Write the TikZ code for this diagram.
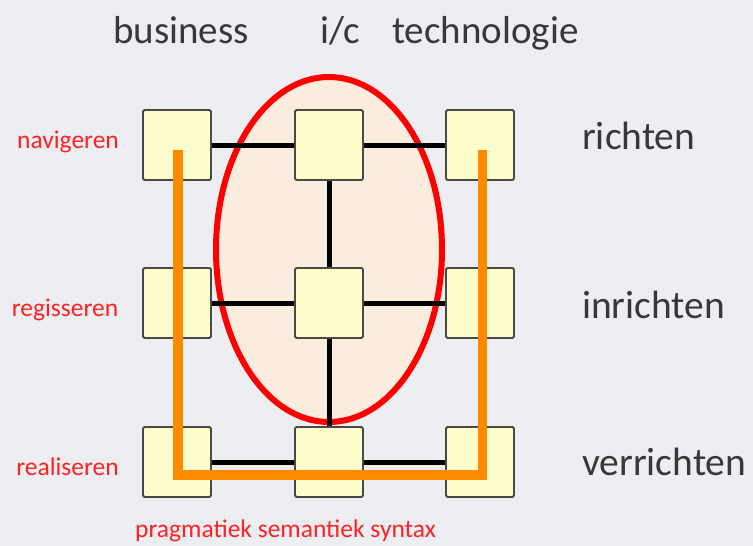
\documentclass[tikz,border=0pt]{standalone}
\usepackage{fontspec}
\usetikzlibrary{shapes.geometric}
\setmainfont{Carlito}
\begin{document}
\begin{tikzpicture}[x=1pt,y=-1pt,
  cell/.style={draw=boxline,fill=boxfill,line width=1.8pt,rounded corners=1.5pt,minimum width=68pt,minimum height=70pt,inner sep=0pt},
  link/.style={line width=5pt,black},
  toplabel/.style={anchor=base west,inner sep=0pt,text=txtgray,font=\fontsize{39}{39}\selectfont},
  rightlabel/.style={anchor=base west,inner sep=0pt,text=txtgray,font=\fontsize{39.5}{40}\selectfont},
  redlabel/.style={anchor=base,inner sep=0pt,text=lblred,font=\fontsize{25.5}{26}\selectfont},
  orangepath/.style={line width=9.5pt,draw=orng,line join=miter}]
\definecolor{bg}{HTML}{ECEEF1}
\definecolor{boxfill}{HTML}{FFFDCB}
\definecolor{boxline}{HTML}{4A4A44}
\definecolor{txtgray}{HTML}{383838}
\definecolor{lblred}{HTML}{FF2222}
\definecolor{orng}{HTML}{FF8A00}
\definecolor{peach}{HTML}{FBEDDD}
\definecolor{ellred}{HTML}{FF0000}
\useasboundingbox[fill=bg] (0,0) rectangle (753,546);
% ellipse
\node[ellipse,draw=ellred,fill=peach,line width=6pt,inner sep=0pt,minimum width=226pt,minimum height=345pt] (ell) at (329,249.5) {};
% boxes
\node[cell] (b11) at (177,145) {};
\node[cell] (b12) at (329,145) {};
\node[cell] (b13) at (480,145) {};
\node[cell] (b21) at (177,303) {};
\node[cell] (b22) at (329,303) {};
\node[cell] (b23) at (480,303) {};
\node[cell] (b31) at (177,462) {};
\node[cell] (b32) at (329,462) {};
\node[cell] (b33) at (480,462) {};
% links
\draw[link] (b11.east) -- (b12.west);
\draw[link] (b12.east) -- (b13.west);
\draw[link] (b21.east) -- (b22.west);
\draw[link] (b22.east) -- (b23.west);
\draw[link] (b31.east) -- (b32.west);
\draw[link] (b32.east) -- (b33.west);
\draw[link] (b12.south) -- (b22.north);
\draw[link] (b22.south) -- (b32.north);
\draw[link] (b11.south) -- (b21.north);
\draw[link] (b21.south) -- (b31.north);
\draw[link] (b13.south) -- (b23.north);
\draw[link] (b23.south) -- (b33.north);
% orange path
\coordinate (o1) at (178,150);
\coordinate (o2) at (178,475);
\coordinate (o3) at (482.5,475);
\coordinate (o4) at (482.5,150);
\draw[orangepath] (o1) -- (o2) -- (o3) -- (o4);
% top labels
\node[toplabel] (tb) at (113,43) {business};
\node[toplabel] (tic) at (320,43) {i/c};
\node[toplabel] (tt) at (392,43) {technologie};
% right labels
\node[rightlabel] (r1) at (582,149) {richten};
\node[rightlabel] (r2) at (582,318) {inrichten};
\node[rightlabel] (r3) at (582,475) {verrichten};
% red labels
\node[redlabel] (l1) at (68,148) {navigeren};
\node[redlabel] (l2) at (65,316) {regisseren};
\node[redlabel] (l3) at (67.5,475) {realiseren};
\node[redlabel,anchor=base west] (l4) at (135,537) {pragmatiek semantiek syntax};
\end{tikzpicture}
\end{document}
